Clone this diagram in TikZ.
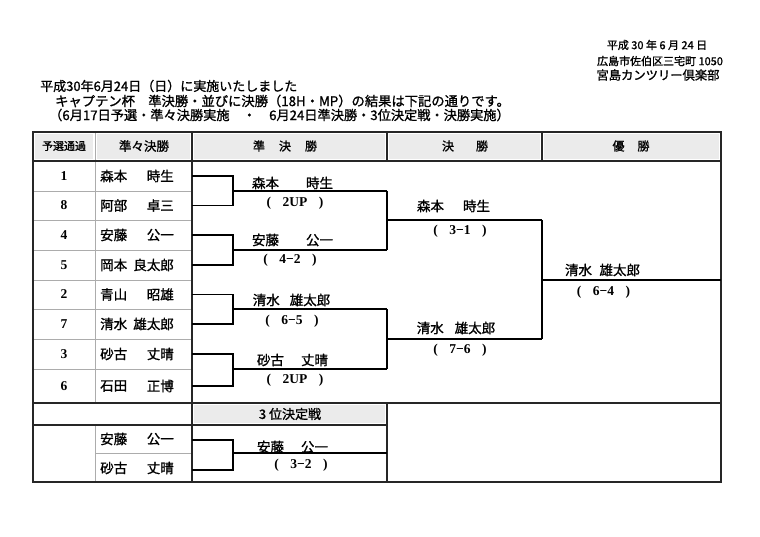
\documentclass[tikz,border=0pt]{standalone}
\usepackage{fontspec}
\setmainfont{Noto Sans CJK JP}[FakeBold=1.2]
\newfontfamily\numfont{Liberation Serif}
\usepackage{tikz}

\newcommand\fsz[1]{\fontsize{#1}{#1}\selectfont}
\newcommand\mpres[1]{(\hspace{0.85em}#1\hspace{0.85em})}

\tikzset{
  hdr/.style={fill=gray!16},
  frame/.style={black!85, line width=1.8pt},
  bar/.style={black!85, line width=1.4pt},
  gridline/.style={gray!65, line width=0.6pt},
  bline/.style={black, line width=1.1pt},
  pname/.style={font=\fsz{13.5}, inner sep=0pt},
  seed/.style={font=\numfont\bfseries\fsz{13.5}, inner sep=0pt},
  res/.style={font=\numfont\bfseries\fsz{13.5}, inner sep=0pt},
  htext/.style={font=\fsz{12}, inner sep=0pt},
}

\begin{document}
\begin{tikzpicture}[x=1pt,y=-1pt]
\useasboundingbox (0,0) rectangle (760,537);
\fill[white] (0,0) rectangle (760,537);

% heading
\node[font=\fsz{11}, inner sep=0pt] (date) at (657,45) {平成 30 年 6 月 24 日};
\node[font=\fsz{11}, inner sep=0pt] (addr) at (660,61) {広島市佐伯区三宅町 1050};
\node[font=\fsz{12.3}, inner sep=0pt] (club) at (658,75) {宮島カンツリー倶楽部};
\node[font=\fsz{13}, inner sep=0pt, anchor=west] (line1) at (40,86) {平成30年6月24日（日）に実施いたしました};
\node[font=\fsz{13.3}, inner sep=0pt, anchor=west] (line2) at (55,101) {キャプテン杯　準決勝・並びに決勝（18H・MP）の結果は下記の通りです。};
\node[font=\fsz{13.2}, inner sep=0pt, anchor=west] (line3) at (49,115) {（6月17日予選・準々決勝実施　・　6月24日準決勝・3位決定戦・決勝実施）};

% header cells
\foreach \xa/\xb in {33/95, 95/192, 192/387, 387/542, 542/721}
  \fill[hdr] (\xa+2,134) rectangle (\xb-2,159);
\fill[hdr] (194,405) rectangle (385,423); % 3rd place cell

% table lines
\draw[gridline] (95,132) -- (95,403);
\draw[gridline] (95,425) -- (95,482);
\foreach \y in {191,220,250,280,309,339,369}
  \draw[gridline] (33,\y) -- (192,\y);
\draw[gridline] (95,453) -- (192,453);
\draw[bar] (33,161) -- (721,161);
\draw[bar] (192,132) -- (192,482);
\draw[bar] (387,132) -- (387,161);
\draw[bar] (542,132) -- (542,161);
\draw[bar] (33,403) -- (721,403);
\draw[bar] (33,425) -- (387,425);
\draw[bar] (387,403) -- (387,482);
\draw[frame] (33,132) rectangle (721,482);

% header texts
\node[font=\fsz{11}, inner sep=0pt] (h1) at (64,146) {予選通過};
\node[font=\fsz{12.5}, inner sep=0pt] (h2) at (144,146) {準々決勝};
\node[htext] (h3) at (285,146) {準\hspace{14pt}決\hspace{14pt}勝};
\node[htext] (h4) at (465,146) {決\hspace{22pt}勝};
\node[htext] (h5) at (631,146) {優\hspace{13pt}勝};
\node[font=\fsz{13}, inner sep=0pt] (h6) at (290,414) {3 位決定戦};

% seeds and players
\foreach \s/\sei/\mei/\y [count=\i] in {1/森本/時生/176, 8/阿部/卓三/205.5,
    4/安藤/公一/235, 5/岡本/良太郎/265, 2/青山/昭雄/294.5, 7/清水/雄太郎/324,
    3/砂古/丈晴/354, 6/石田/正博/386}{
  \node[seed] (seed\i) at (64,\y) {\s};
  \node[pname, anchor=west] (sei\i) at (100,\y) {\sei};
  \node[pname, anchor=east] (mei\i) at (174,\y) {\mei};
}
\node[pname, anchor=west] (sei9) at (100,439) {安藤};
\node[pname, anchor=east] (mei9) at (174,439) {公一};
\node[pname, anchor=west] (sei10) at (100,468) {砂古};
\node[pname, anchor=east] (mei10) at (174,468) {丈晴};

% quarter finals
\foreach \ya/\yb/\ym in {176/205.5/191, 235/265/250, 294.5/324/309, 354/386/369, 440/470/453}{
  \draw[bline] (192,\ya) -- (233,\ya) -- (233,\yb) -- (192,\yb);
  \draw[bline] (233,\ym) -- (387,\ym);
}
% semi finals and final
\draw[bline] (387,191) -- (387,250);
\draw[bline] (387,220) -- (542,220);
\draw[bline] (387,309) -- (387,369);
\draw[bline] (387,339) -- (542,339);
\draw[bline] (542,220) -- (542,339);
\draw[bline] (542,280) -- (721,280);

% winners and results
\node[pname] (sf1) at (292.5,183) {森本\hspace{27pt}時生};
\node[res] (sf1r) at (295,203) {\mpres{2UP}};
\node[pname] (sf2) at (292.5,240) {安藤\hspace{27pt}公一};
\node[res] (sf2r) at (290,260) {\mpres{4−2}};
\node[pname] (sf3) at (291.5,300) {清水\hspace{10pt}雄太郎};
\node[res] (sf3r) at (292,321) {\mpres{6−5}};
\node[pname] (sf4) at (292.5,360) {砂古\hspace{17pt}丈晴};
\node[res] (sf4r) at (295,380) {\mpres{2UP}};
\node[pname] (fn1) at (453.5,206) {森本\hspace{19pt}時生};
\node[res] (fn1r) at (460,231) {\mpres{3−1}};
\node[pname] (fn2) at (456,328) {清水\hspace{11pt}雄太郎};
\node[res] (fn2r) at (460,350) {\mpres{7−6}};
\node[pname] (champ) at (602.5,270) {清水\hspace{7.5pt}雄太郎};
\node[res] (champr) at (603.5,292) {\mpres{6−4}};
\node[pname] (third) at (292.5,447) {安藤\hspace{17pt}公一};
\node[res] (thirdr) at (301,465) {\mpres{3−2}};
\end{tikzpicture}
\end{document}
